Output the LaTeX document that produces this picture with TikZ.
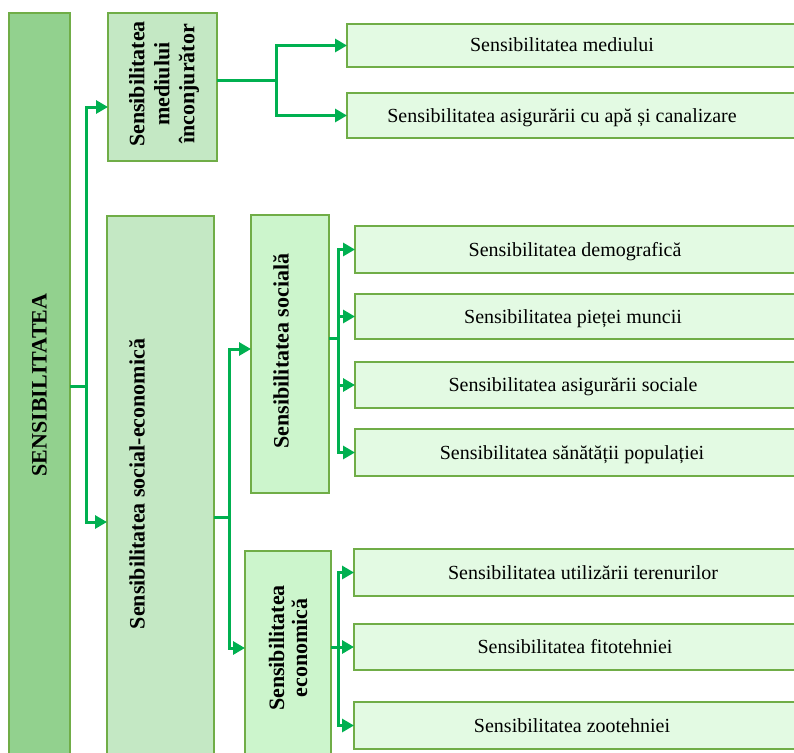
\documentclass[tikz,border=0pt]{standalone}
\usepackage{fontspec}
\setmainfont{Liberation Serif}
\usetikzlibrary{arrows.meta}
\definecolor{bord}{HTML}{70AD47}
\definecolor{arrowc}{HTML}{00B050}
\definecolor{mainfill}{HTML}{92D18E}
\definecolor{midfill}{HTML}{C4E8C4}
\definecolor{subfill}{HTML}{CCF5CC}
\definecolor{leaffill}{HTML}{E3FAE3}
\begin{document}
\begin{tikzpicture}[x=1pt,y=-1pt,
 box/.style={draw=bord, line width=2.5pt, inner sep=0pt, outer sep=0pt, anchor=north west},
 leaf/.style={box, fill=leaffill, line width=2pt, minimum width=460pt},
 vlabel/.style={rotate=90, font=\fontsize{22}{25}\selectfont\bfseries, align=center, inner sep=0pt},
 ltext/.style={font=\fontsize{20}{24}\selectfont, inner sep=0pt, text height=13pt, text depth=0pt},
 conn/.style={draw=arrowc, line width=3pt},
 arr/.style={conn, -{Triangle[length=12pt,width=13pt]}},
]
\useasboundingbox (0,0) rectangle (794,752);
\clip (0,0) rectangle (794,752);
% boxes
\node[box, fill=mainfill, minimum width=61pt, minimum height=760pt] (S) at (9,13) {};
\node[box, fill=midfill, minimum width=109pt, minimum height=148pt] (M) at (108,13) {};
\node[box, fill=midfill, minimum width=107pt, minimum height=560pt] (SE) at (107,216) {};
\node[box, fill=subfill, minimum width=78pt, minimum height=278pt] (SOC) at (251,215) {};
\node[box, fill=subfill, minimum width=86pt, minimum height=220pt] (ECO) at (245,551) {};
\node[leaf, minimum height=43pt] (L1) at (347,24) {};
\node[leaf, minimum height=45pt] (L2) at (347,93) {};
\node[leaf, minimum height=47pt] (L3) at (355,226) {};
\node[leaf, minimum height=45pt] (L4) at (355,294) {};
\node[leaf, minimum height=46pt] (L5) at (355,362) {};
\node[leaf, minimum height=47pt] (L6) at (355,429) {};
\node[leaf, minimum height=47pt] (L7) at (354,549) {};
\node[leaf, minimum height=46pt] (L8) at (354,624) {};
\node[leaf, minimum height=47pt] (L9) at (354,702) {};
% vertical labels
\node[vlabel] (tS) at (39.5,385) {SENSIBILITATEA};
\node[vlabel] (tM) at (164,84) {Sensibilitatea\\mediului\\înconjurător};
\node[vlabel] (tSE) at (137,484) {Sensibilitatea social-economică};
\node[vlabel] (tSOC) at (281,351) {Sensibilitatea socială};
\node[vlabel, font=\fontsize{22}{23}\selectfont\bfseries] (tECO) at (288,648) {Sensibilitatea\\economică};
% leaf texts
\node[ltext] (t1) at (562,45.5) {Sensibilitatea mediului};
\node[ltext] (t2) at (562,115.5) {Sensibilitatea asigurării cu apă și canalizare};
\node[ltext] (t3) at (575,249.5) {Sensibilitatea demografică};
\node[ltext] (t4) at (573,316.5) {Sensibilitatea pieței muncii};
\node[ltext] (t5) at (573,385) {Sensibilitatea asigurării sociale};
\node[ltext] (t6) at (572,452.5) {Sensibilitatea sănătății populației};
\node[ltext] (t7) at (583,572.5) {Sensibilitatea utilizării terenurilor};
\node[ltext] (t8) at (575,647) {Sensibilitatea fitotehniei};
\node[ltext] (t9) at (572,725.5) {Sensibilitatea zootehniei};
% connectors
\coordinate (j1) at (86,386);
\coordinate (a1) at (86,107);
\coordinate (a2) at (86,522);
\draw[conn] (S.east |- j1) -- (j1);
\draw[arr] (j1) |- (M.west |- a1);
\draw[arr] (j1) |- (SE.west |- a2);
\coordinate (j2) at (276,80);
\draw[conn] (M.east |- j2) -- (j2);
\draw[arr] (j2) |- (L1.west);
\draw[arr] (j2) |- (L2.west);
\coordinate (j3) at (229,517);
\coordinate (a3) at (229,349);
\coordinate (a4) at (229,648);
\draw[conn] (SE.east |- j3) -- (j3);
\draw[arr] (j3) |- (SOC.west |- a3);
\draw[arr] (j3) |- (ECO.west |- a4);
\coordinate (j4) at (338,338);
\draw[conn] (SOC.east |- j4) -- (j4);
\draw[arr] (j4) |- (L3.west);
\draw[arr] (j4) |- (L4.west);
\draw[arr] (j4) |- (L5.west);
\draw[arr] (j4) |- (L6.west);
\coordinate (j5) at (338,647);
\draw[conn] (ECO.east |- j5) -- (j5);
\draw[arr] (j5) |- (L7.west);
\draw[arr] (j5) |- (L8.west);
\draw[arr] (j5) |- (L9.west);
\end{tikzpicture}
\end{document}
